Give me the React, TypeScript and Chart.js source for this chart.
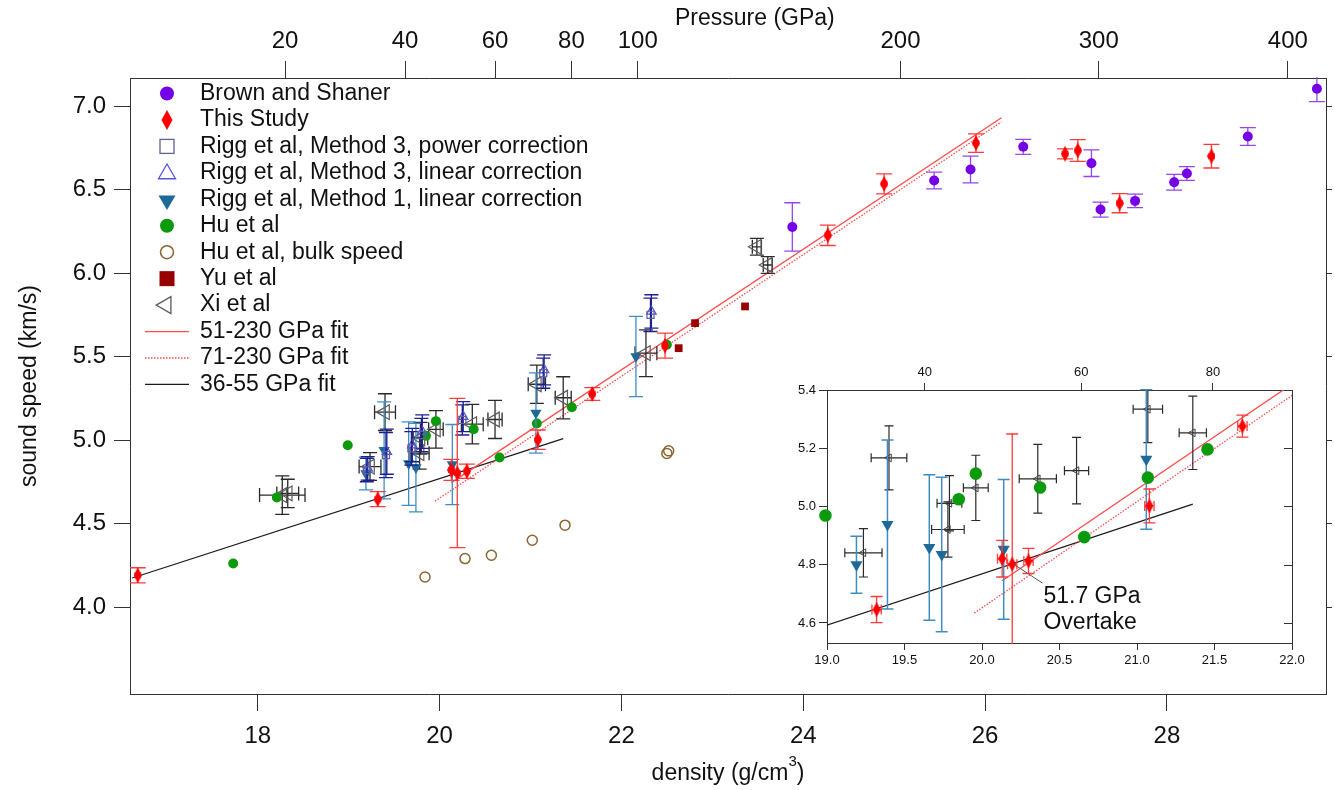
import React, { useEffect, useRef } from "react";
import { Chart, registerables } from "chart.js";

Chart.register(...registerables);

const FONT = "'Liberation Sans', Arial, Helvetica, sans-serif";

// ---------- axes / ticks ----------
const densityTicks = [18, 20, 22, 24, 26, 28];
const speedTicks = [4.0, 4.5, 5.0, 5.5, 6.0, 6.5, 7.0];
const pressureLabels = [20, 40, 60, 80, 100, 200, 300, 400];
const pressureAtDensity = [18.3, 19.62, 20.61, 21.45, 22.18, 25.07, 27.25, 29.33];
const insetDensityTicks = [19.0, 19.5, 20.0, 20.5, 21.0, 21.5, 22.0];
const insetSpeedTicks = [4.6, 4.8, 5.0, 5.2, 5.4];
const insetPressureLabels = [40, 60, 80];
const insetPressureAtDensity = [19.63, 20.64, 21.49];

const legendLabels = [
  "Brown and Shaner",
  "This Study",
  "Rigg et al, Method 3, power correction",
  "Rigg et al, Method 3, linear correction",
  "Rigg et al, Method 1, linear correction",
  "Hu et al",
  "Hu et al, bulk speed",
  "Yu et al",
  "Xi et al",
  "51-230 GPa fit",
  "71-230 GPa fit",
  "36-55 GPa fit",
];

// ---------- series ----------
const brownDensity = [23.88, 25.44, 25.84, 26.42, 27.17, 27.27, 27.65, 28.08, 28.22, 28.89, 29.65];
const brownSpeed = [6.276, 6.554, 6.62, 6.756, 6.658, 6.38, 6.432, 6.544, 6.596, 6.818, 7.104];
const brownErr = [0.145, 0.05, 0.08, 0.045, 0.08, 0.045, 0.04, 0.047, 0.041, 0.053, 0.077];

const studyDensity = [16.68, 19.32, 20.13, 20.195, 20.3, 21.08, 21.68, 22.48, 24.27, 24.89, 25.9, 26.88, 27.02, 27.48, 28.49];
const studySpeed = [4.19, 4.646, 4.821, 4.802, 4.813, 5.002, 5.276, 5.565, 6.226, 6.534, 6.778, 6.714, 6.734, 6.418, 6.7];
const studyErr = [0.045, 0.045, 0.063, 0.447, 0.043, 0.058, 0.038, 0.075, 0.061, 0.06, 0.055, 0.03, 0.065, 0.057, 0.071];
const studyDensityErr = [0.03, 0.03, 0.03, 0.03, 0.03, 0.03, 0.03, 0.03, 0.03, 0.03, 0.03, 0.03, 0.03, 0.03, 0.03];

const m3PowerDensity = [19.2, 19.41, 19.69, 19.8, 20.25, 21.14, 22.32];
const m3PowerSpeed = [4.82, 4.91, 4.95, 5.03, 5.12, 5.4, 5.75];
const m3PowerErr = [0.07, 0.135, 0.1, 0.1, 0.09, 0.09, 0.1];

const m3LinearDensity = [19.21, 19.42, 19.7, 19.81, 20.26, 21.15, 22.33];
const m3LinearSpeed = [4.83, 4.93, 4.97, 5.05, 5.14, 5.42, 5.77];
const m3LinearErr = [0.07, 0.135, 0.1, 0.1, 0.09, 0.09, 0.1];

const m1Density = [19.19, 19.39, 19.66, 19.74, 20.14, 21.06, 22.16];
const m1Speed = [4.8, 4.938, 4.859, 4.835, 4.853, 5.162, 5.5];
const m1Err = [0.098, 0.29, 0.25, 0.265, 0.24, 0.24, 0.24];

const huDensity = [17.73, 18.21, 18.99, 19.85, 19.96, 20.375, 20.66, 21.07, 21.455, 22.5];
const huSpeed = [4.26, 4.656, 4.969, 5.025, 5.113, 5.065, 4.895, 5.099, 5.196, 5.57];

const huBulkDensity = [19.84, 20.28, 20.57, 21.02, 21.38, 22.5, 22.52];
const huBulkSpeed = [4.18, 4.29, 4.31, 4.4, 4.49, 4.92, 4.935];

const yuDensity = [22.63, 22.81, 23.36];
const yuSpeed = [5.55, 5.7, 5.8];

const xiDensity = [18.27, 18.33, 19.235, 19.4, 19.78, 19.79, 19.96, 20.36, 20.61, 21.07, 21.36, 22.27, 23.49, 23.61];
const xiSpeed = [4.67, 4.68, 4.841, 5.167, 4.921, 5.011, 5.064, 5.095, 5.123, 5.334, 5.253, 5.52, 6.157, 6.048];
const xiDensityErr = [0.25, 0.12, 0.12, 0.115, 0.105, 0.08, 0.08, 0.12, 0.078, 0.095, 0.088, 0.12, 0.05, 0.05];
const xiSpeedErr = [0.115, 0.085, 0.083, 0.11, 0.095, 0.095, 0.112, 0.118, 0.114, 0.115, 0.126, 0.14, 0.05, 0.05];

const fit51Density = [20.13, 26.18];
const fit51Speed = [4.745, 6.93];
const fit71Density = [19.95, 26.18];
const fit71Speed = [4.634, 6.905];
const fit36Density = [16.62, 21.36];
const fit36Speed = [4.174, 5.008];

// ---------- colours ----------
const C = {
  brown: "#7400E8",
  brownErr: "#9447F0",
  study: "#FF0000",
  studyErr: "#FF3B3B",
  m3p: "#60609C",
  m3l: "#5555DD",
  m3Err: "#1E1E90",
  m1: "#1D6A99",
  m1Err: "#3E8DC2",
  hu: "#0B9A0B",
  huBulk: "#8C6430",
  yu: "#990000",
  xi: "#5A5A5A",
  xiErr: "#2A2A2A",
  fitRed: "#FF4C4C",
  fitBlack: "#1A1A1A",
  axis: "#333333",
  text: "#111111",
};

function pts(xs: number[], ys: number[]) {
  return xs.map((x, i) => ({ x, y: ys[i] }));
}

function diamondCanvas(w: number, h: number, color: string) {
  const c = document.createElement("canvas");
  c.width = w;
  c.height = h;
  const g = c.getContext("2d")!;
  g.fillStyle = color;
  g.beginPath();
  g.moveTo(w / 2, 0);
  g.lineTo(w, h / 2);
  g.lineTo(w / 2, h);
  g.lineTo(0, h / 2);
  g.closePath();
  g.fill();
  return c;
}

const errorBarPlugin = {
  id: "errorBars",
  beforeDatasetDraw(chart: any, args: any) {
    const ds = chart.data.datasets[args.index];
    if (!ds.errY && !ds.errX) return;
    const meta = args.meta;
    const xs = chart.scales[meta.xAxisID];
    const ys = chart.scales[meta.yAxisID];
    const ctx = chart.ctx;
    const a = chart.chartArea;
    ctx.save();
    ctx.beginPath();
    ctx.rect(a.left, a.top - 1, a.right - a.left, a.bottom - a.top + 2);
    ctx.clip();
    ctx.strokeStyle = ds.errColor;
    ctx.lineWidth = ds.errWidth || 1.3;
    const cap = ds.errCap || 6;
    const capX = ds.errCapX || cap;
    ds.data.forEach((p: any, i: number) => {
      const px = xs.getPixelForValue(p.x);
      const py = ys.getPixelForValue(p.y);
      ctx.beginPath();
      if (ds.errY) {
        const e = ds.errY[i];
        const y1 = ys.getPixelForValue(p.y + e);
        const y2 = ys.getPixelForValue(p.y - e);
        ctx.moveTo(px, y1);
        ctx.lineTo(px, y2);
        ctx.moveTo(px - cap, y1);
        ctx.lineTo(px + cap, y1);
        ctx.moveTo(px - cap, y2);
        ctx.lineTo(px + cap, y2);
      }
      if (ds.errX) {
        const e = ds.errX[i];
        const x1 = xs.getPixelForValue(p.x - e);
        const x2 = xs.getPixelForValue(p.x + e);
        ctx.moveTo(x1, py);
        ctx.lineTo(x2, py);
        ctx.moveTo(x1, py - capX);
        ctx.lineTo(x1, py + capX);
        ctx.moveTo(x2, py - capX);
        ctx.lineTo(x2, py + capX);
      }
      ctx.stroke();
    });
    ctx.restore();
  },
};

function drawTri(ctx: CanvasRenderingContext2D, x: number, y: number, s: number, dir: string) {
  ctx.beginPath();
  const h = (s * Math.sqrt(3)) / 2;
  if (dir === "up") {
    ctx.moveTo(x, y - (2 * h) / 3);
    ctx.lineTo(x + s / 2, y + h / 3);
    ctx.lineTo(x - s / 2, y + h / 3);
  } else if (dir === "down") {
    ctx.moveTo(x, y + (2 * h) / 3);
    ctx.lineTo(x + s / 2, y - h / 3);
    ctx.lineTo(x - s / 2, y - h / 3);
  } else {
    ctx.moveTo(x - (2 * h) / 3, y);
    ctx.lineTo(x + h / 3, y - s / 2);
    ctx.lineTo(x + h / 3, y + s / 2);
  }
  ctx.closePath();
}

const legendPlugin = {
  id: "customLegend",
  afterDraw(chart: any) {
    const ctx: CanvasRenderingContext2D = chart.ctx;
    const a = chart.chartArea;
    const mx = a.left + 37;
    const tx = a.left + 70;
    const y0 = a.top + 15.5;
    const dy = 26.45;
    ctx.save();
    ctx.font = `23px ${FONT}`;
    ctx.textBaseline = "middle";
    ctx.textAlign = "left";
    legendLabels.forEach((label, i) => {
      const y = y0 + i * dy;
      ctx.lineWidth = 1.3;
      switch (i) {
        case 0:
          ctx.fillStyle = C.brown;
          ctx.beginPath();
          ctx.arc(mx, y, 7, 0, Math.PI * 2);
          ctx.fill();
          break;
        case 1:
          ctx.fillStyle = C.study;
          ctx.beginPath();
          ctx.moveTo(mx, y - 10);
          ctx.lineTo(mx + 5.5, y);
          ctx.lineTo(mx, y + 10);
          ctx.lineTo(mx - 5.5, y);
          ctx.closePath();
          ctx.fill();
          break;
        case 2:
          ctx.strokeStyle = C.m3p;
          ctx.strokeRect(mx - 7, y - 7, 14, 14);
          break;
        case 3:
          ctx.strokeStyle = C.m3l;
          drawTri(ctx, mx, y + 1, 17, "up");
          ctx.stroke();
          break;
        case 4:
          ctx.fillStyle = C.m1;
          drawTri(ctx, mx, y + 1, 17, "down");
          ctx.fill();
          break;
        case 5:
          ctx.fillStyle = C.hu;
          ctx.beginPath();
          ctx.arc(mx, y, 7, 0, Math.PI * 2);
          ctx.fill();
          break;
        case 6:
          ctx.strokeStyle = C.huBulk;
          ctx.lineWidth = 1.5;
          ctx.beginPath();
          ctx.arc(mx, y, 6.5, 0, Math.PI * 2);
          ctx.stroke();
          break;
        case 7:
          ctx.fillStyle = C.yu;
          ctx.fillRect(mx - 7.5, y - 7.5, 15, 15);
          break;
        case 8:
          ctx.strokeStyle = C.xi;
          drawTri(ctx, mx - 1, y, 17, "left");
          ctx.stroke();
          break;
        case 9:
        case 10:
        case 11:
          ctx.strokeStyle = i === 11 ? C.fitBlack : C.fitRed;
          ctx.lineWidth = i === 11 ? 1.2 : 1.3;
          ctx.setLineDash(i === 10 ? [1.5, 1.5] : []);
          ctx.beginPath();
          ctx.moveTo(a.left + 15, y);
          ctx.lineTo(a.left + 59, y);
          ctx.stroke();
          ctx.setLineDash([]);
          break;
      }
      ctx.fillStyle = C.text;
      ctx.fillText(label, tx, y);
    });
    ctx.restore();
  },
};

const titlePlugin = {
  id: "axisTitles",
  afterDraw(chart: any) {
    const ctx: CanvasRenderingContext2D = chart.ctx;
    const a = chart.chartArea;
    ctx.save();
    ctx.fillStyle = C.text;
    ctx.font = `23px ${FONT}`;
    ctx.textBaseline = "middle";
    ctx.textAlign = "left";
    ctx.fillText("Pressure (GPa)", a.left + 545, a.top - 59);
    // x title with superscript
    const cx = (a.left + a.right) / 2;
    const t1 = "density (g/cm";
    const t3 = ")";
    ctx.font = `23px ${FONT}`;
    const w1 = ctx.measureText(t1).width;
    const w3 = ctx.measureText(t3).width;
    ctx.font = `15px ${FONT}`;
    const w2 = ctx.measureText("3").width;
    const total = w1 + w2 + w3;
    let x = cx - total / 2;
    const y = a.bottom + 80;
    ctx.font = `23px ${FONT}`;
    ctx.fillText(t1, x, y);
    x += w1;
    ctx.font = `15px ${FONT}`;
    ctx.fillText("3", x, y - 12);
    x += w2;
    ctx.font = `23px ${FONT}`;
    ctx.fillText(t3, x, y);
    // y title
    ctx.textAlign = "center";
    ctx.translate(a.left - 100, (a.top + a.bottom) / 2);
    ctx.rotate(-Math.PI / 2);
    ctx.fillText("sound speed (km/s)", 0, 0);
    ctx.restore();
  },
};

const insetExtrasPlugin = {
  id: "insetExtras",
  afterDraw(chart: any) {
    const ctx: CanvasRenderingContext2D = chart.ctx;
    const a = chart.chartArea;
    const xs = chart.scales.x;
    const ys = chart.scales.y;
    ctx.save();
    // inward ticks on the right side
    ctx.strokeStyle = C.axis;
    ctx.lineWidth = 1;
    insetSpeedTicks.forEach((v) => {
      const py = Math.round(ys.getPixelForValue(v)) + 0.5;
      ctx.beginPath();
      ctx.moveTo(a.right - 8, py);
      ctx.lineTo(a.right, py);
      ctx.stroke();
    });
    // annotation
    const x1 = xs.getPixelForValue(20.21);
    const y1 = ys.getPixelForValue(4.8);
    const x2 = xs.getPixelForValue(20.39);
    const y2 = ys.getPixelForValue(4.737);
    ctx.strokeStyle = "#555";
    ctx.beginPath();
    ctx.moveTo(x1, y1);
    ctx.lineTo(x2, y2);
    ctx.stroke();
    ctx.fillStyle = C.text;
    ctx.font = `23px ${FONT}`;
    ctx.textAlign = "left";
    ctx.textBaseline = "middle";
    ctx.fillText("51.7 GPa", x2 + 1, ys.getPixelForValue(4.689));
    ctx.fillText("Overtake", x2 + 1, ys.getPixelForValue(4.6));
    ctx.restore();
  },
};

function scaleDef(opts: any) {
  const {
    position,
    min,
    max,
    tickValues,
    label,
    size,
    fontSize,
    tickLength,
    padding,
    showLabels = true,
    drawTicks = true,
  } = opts;
  const horizontal = position === "top" || position === "bottom";
  return {
    type: "linear",
    position,
    min,
    max,
    afterBuildTicks: (s: any) => {
      s.ticks = tickValues.map((v: number) => ({ value: v }));
    },
    afterFit: (s: any) => {
      if (horizontal) s.height = size;
      else s.width = size;
      s.paddingLeft = 0;
      s.paddingRight = 0;
      s.paddingTop = 0;
      s.paddingBottom = 0;
    },
    ticks: {
      display: showLabels,
      autoSkip: false,
      maxRotation: 0,
      minRotation: 0,
      padding,
      color: C.text,
      font: { family: FONT, size: fontSize },
      callback: (v: number, i: number) => label(v, i),
    },
    grid: {
      display: true,
      drawOnChartArea: false,
      drawTicks,
      tickLength,
      tickColor: C.axis,
      color: C.axis,
      tickWidth: 1,
    },
    border: { display: true, color: C.axis, width: 1 },
  };
}

export default function App() {
  const mainRef = useRef<HTMLCanvasElement>(null);
  const insetRef = useRef<HTMLCanvasElement>(null);

  useEffect(() => {
    const diamondMain = diamondCanvas(8, 16, C.study);
    const diamondInset = diamondCanvas(8, 15, C.study);

    const xMin = 16.595;
    const xMax = 29.75;
    const yMin = 3.479;
    const yMax = 7.168;

    const mainDatasets: any[] = [
      {
        label: legendLabels[0],
        data: pts(brownDensity, brownSpeed),
        pointStyle: "circle",
        pointRadius: 5,
        backgroundColor: C.brown,
        borderColor: C.brown,
        borderWidth: 0,
        errY: brownErr,
        errColor: C.brownErr,
        errCap: 8,
      },
      {
        label: legendLabels[1],
        data: pts(studyDensity, studySpeed),
        pointStyle: diamondMain,
        pointRadius: 8,
        backgroundColor: C.study,
        borderWidth: 0,
        errY: studyErr,
        errX: studyDensityErr,
        errColor: C.studyErr,
        errCap: 8,
        errCapX: 3,
      },
      {
        label: legendLabels[2],
        data: pts(m3PowerDensity, m3PowerSpeed),
        pointStyle: "rect",
        pointRadius: 5,
        backgroundColor: "rgba(0,0,0,0)",
        borderColor: C.m3p,
        borderWidth: 1.2,
        errY: m3PowerErr,
        errColor: C.m3Err,
        errCap: 7,
      },
      {
        label: legendLabels[3],
        data: pts(m3LinearDensity, m3LinearSpeed),
        pointStyle: "triangle",
        pointRadius: 5.5,
        backgroundColor: "rgba(0,0,0,0)",
        borderColor: C.m3l,
        borderWidth: 1.2,
        errY: m3LinearErr,
        errColor: C.m3Err,
        errCap: 7,
      },
      {
        label: legendLabels[4],
        data: pts(m1Density, m1Speed),
        pointStyle: "triangle",
        rotation: 180,
        pointRadius: 6.5,
        backgroundColor: C.m1,
        borderColor: C.m1,
        borderWidth: 0,
        errY: m1Err,
        errColor: C.m1Err,
        errCap: 7,
      },
      {
        label: legendLabels[5],
        data: pts(huDensity, huSpeed),
        pointStyle: "circle",
        pointRadius: 5,
        backgroundColor: C.hu,
        borderColor: C.hu,
        borderWidth: 0,
      },
      {
        label: legendLabels[6],
        data: pts(huBulkDensity, huBulkSpeed),
        pointStyle: "circle",
        pointRadius: 5,
        backgroundColor: "rgba(0,0,0,0)",
        borderColor: C.huBulk,
        borderWidth: 1.5,
      },
      {
        label: legendLabels[7],
        data: pts(yuDensity, yuSpeed),
        pointStyle: "rect",
        pointRadius: 5.5,
        backgroundColor: C.yu,
        borderColor: C.yu,
        borderWidth: 0,
      },
      {
        label: legendLabels[8],
        data: pts(xiDensity, xiSpeed),
        pointStyle: "triangle",
        rotation: -90,
        pointRadius: 8.5,
        backgroundColor: "rgba(0,0,0,0)",
        borderColor: C.xi,
        borderWidth: 1.2,
        errY: xiSpeedErr,
        errX: xiDensityErr,
        errColor: C.xiErr,
        errCap: 7,
      },
      {
        label: legendLabels[9],
        data: pts(fit51Density, fit51Speed),
        showLine: true,
        pointRadius: 0,
        borderColor: C.fitRed,
        borderWidth: 1.3,
      },
      {
        label: legendLabels[10],
        data: pts(fit71Density, fit71Speed),
        showLine: true,
        pointRadius: 0,
        borderColor: C.fitRed,
        borderWidth: 1.3,
        borderDash: [1.5, 1.5],
      },
      {
        label: legendLabels[11],
        data: pts(fit36Density, fit36Speed),
        showLine: true,
        pointRadius: 0,
        borderColor: C.fitBlack,
        borderWidth: 1.2,
      },
    ];

    const main = new Chart(mainRef.current!, {
      type: "scatter",
      data: { datasets: mainDatasets },
      options: {
        responsive: false,
        animation: false,
        events: [],
        layout: { padding: 0, autoPadding: false },
        plugins: { legend: { display: false }, tooltip: { enabled: false } },
        scales: {
          x: scaleDef({
            position: "bottom",
            min: xMin,
            max: xMax,
            tickValues: densityTicks,
            label: (v: number) => String(v),
            size: 96,
            fontSize: 24,
            tickLength: 17,
            padding: 11,
          }),
          x2: scaleDef({
            position: "top",
            min: xMin,
            max: xMax,
            tickValues: pressureAtDensity,
            label: (_v: number, i: number) => String(pressureLabels[i]),
            size: 78,
            fontSize: 24,
            tickLength: 17,
            padding: 5,
          }),
          y: scaleDef({
            position: "left",
            min: yMin,
            max: yMax,
            tickValues: speedTicks,
            label: (v: number) => v.toFixed(1),
            size: 130,
            fontSize: 24,
            tickLength: 16,
            padding: 8,
          }),
          y2: scaleDef({
            position: "right",
            min: yMin,
            max: yMax,
            tickValues: speedTicks,
            label: () => "",
            size: 9,
            fontSize: 10,
            tickLength: 6,
            padding: 0,
            showLabels: false,
          }),
        } as any,
      },
      plugins: [errorBarPlugin, legendPlugin, titlePlugin],
    } as any);

    const insetDatasets: any[] = [
      {
        data: pts(studyDensity, studySpeed),
        pointStyle: diamondInset,
        pointRadius: 8,
        errY: studyErr,
        errX: studyDensityErr,
        errColor: C.studyErr,
        errCap: 6,
        errCapX: 5,
        clip: 10,
      },
      {
        data: pts(huDensity, huSpeed),
        pointStyle: "circle",
        pointRadius: 6.3,
        backgroundColor: C.hu,
        borderWidth: 0,
        clip: 10,
      },
      {
        data: pts(m1Density, m1Speed),
        pointStyle: "triangle",
        rotation: 180,
        pointRadius: 7,
        backgroundColor: C.m1,
        borderWidth: 0,
        errY: m1Err,
        errColor: C.m1Err,
        errCap: 6,
        errWidth: 1.5,
        clip: 10,
      },
      {
        data: pts(xiDensity, xiSpeed),
        pointStyle: "triangle",
        rotation: -90,
        pointRadius: 4.5,
        backgroundColor: "rgba(0,0,0,0)",
        borderColor: "#444",
        borderWidth: 1,
        errY: xiSpeedErr,
        errX: xiDensityErr,
        errColor: C.xiErr,
        errCap: 4.5,
        errWidth: 1.2,
        clip: 10,
      },
      {
        data: pts(fit51Density, fit51Speed),
        showLine: true,
        pointRadius: 0,
        borderColor: C.fitRed,
        borderWidth: 1.3,
      },
      {
        data: pts(fit71Density, fit71Speed),
        showLine: true,
        pointRadius: 0,
        borderColor: C.fitRed,
        borderWidth: 1.3,
        borderDash: [1.5, 1.5],
      },
      {
        data: pts(fit36Density, fit36Speed),
        showLine: true,
        pointRadius: 0,
        borderColor: C.fitBlack,
        borderWidth: 1.2,
      },
    ];

    const iyMin = 4.5313;
    const iyMax = 5.4;
    const inset = new Chart(insetRef.current!, {
      type: "scatter",
      data: { datasets: insetDatasets },
      options: {
        responsive: false,
        animation: false,
        events: [],
        layout: { padding: 0, autoPadding: false },
        plugins: { legend: { display: false }, tooltip: { enabled: false } },
        scales: {
          x: scaleDef({
            position: "bottom",
            min: 19,
            max: 22,
            tickValues: insetDensityTicks,
            label: (v: number) => v.toFixed(1),
            size: 42,
            fontSize: 13,
            tickLength: 7,
            padding: 3,
          }),
          x2: scaleDef({
            position: "top",
            min: 19,
            max: 22,
            tickValues: insetPressureAtDensity,
            label: (_v: number, i: number) => String(insetPressureLabels[i]),
            size: 38,
            fontSize: 13,
            tickLength: 7,
            padding: 3,
          }),
          y: scaleDef({
            position: "left",
            min: iyMin,
            max: iyMax,
            tickValues: insetSpeedTicks,
            label: (v: number) => v.toFixed(1),
            size: 40,
            fontSize: 13,
            tickLength: 8,
            padding: 3,
          }),
          y2: scaleDef({
            position: "right",
            min: iyMin,
            max: iyMax,
            tickValues: insetSpeedTicks,
            label: () => "",
            size: 28,
            fontSize: 10,
            tickLength: 0,
            padding: 0,
            showLabels: false,
            drawTicks: false,
          }),
        } as any,
      },
      plugins: [errorBarPlugin, insetExtrasPlugin],
    } as any);

    return () => {
      main.destroy();
      inset.destroy();
    };
  }, []);

  return (
    <div style={{ position: "absolute", left: 0, top: 0, width: 1335, height: 790, background: "#fff" }}>
      <canvas
        ref={mainRef}
        width={1335}
        height={790}
        style={{ position: "absolute", left: 0, top: 0, width: 1335, height: 790 }}
      />
      <canvas
        ref={insetRef}
        width={533}
        height={333}
        style={{ position: "absolute", left: 787, top: 352, width: 533, height: 333, background: "#fff" }}
      />
    </div>
  );
}
